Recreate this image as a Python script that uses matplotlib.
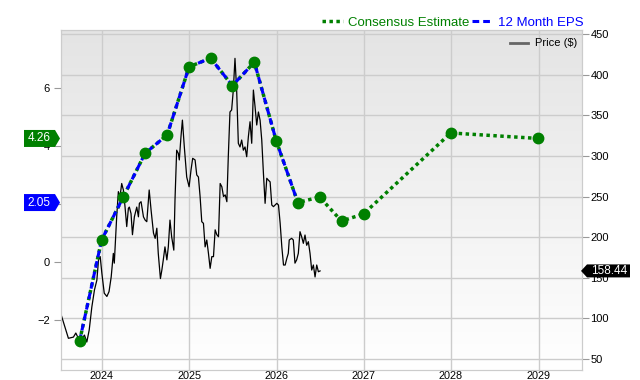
import numpy as np
import pandas as pd
import matplotlib
matplotlib.use('Agg')
import matplotlib.pyplot as plt
from matplotlib.patches import Polygon
from matplotlib.lines import Line2D
from matplotlib.colors import LinearSegmentedColormap
from matplotlib.transforms import IdentityTransform

plt.rcParams['font.family'] = ['Liberation Sans', 'DejaVu Sans']

# quarterly EPS, first 11 reported (12 month EPS), the rest consensus
eps_dates = ['2023-09-30', '2023-12-31', '2024-03-31', '2024-06-30', '2024-09-30',
             '2024-12-31', '2025-03-31', '2025-06-30', '2025-09-30', '2025-12-31',
             '2026-03-31', '2026-06-30', '2026-09-30', '2026-12-31', '2027-12-31',
             '2028-12-31']
eps_vals = [-2.72, 0.76, 2.25, 3.75, 4.38, 6.73, 7.03, 6.08, 6.89, 4.17,
            2.05, 2.24, 1.41, 1.66, 4.45, 4.26]
n_actual = 11

price_dates = ['2023-07-13', '2023-08-14', '2023-09-04', '2023-09-14', '2023-09-22',
               '2023-10-02', '2023-10-20', '2023-10-30', '2023-11-09', '2023-11-20',
               '2023-12-01', '2023-12-11', '2023-12-18', '2023-12-25', '2024-01-01',
               '2024-01-11', '2024-01-22', '2024-01-31', '2024-02-09', '2024-02-18',
               '2024-02-22', '2024-03-03', '2024-03-10', '2024-03-17', '2024-03-24',
               '2024-03-31', '2024-04-07', '2024-04-14', '2024-04-21', '2024-04-25',
               '2024-05-02', '2024-05-08', '2024-05-16', '2024-05-26', '2024-06-02',
               '2024-06-06', '2024-06-13', '2024-06-23', '2024-06-30', '2024-07-07',
               '2024-07-17', '2024-07-25', '2024-08-04', '2024-08-11', '2024-08-18',
               '2024-08-24', '2024-09-02', '2024-09-08', '2024-09-14', '2024-09-21',
               '2024-09-29', '2024-10-05', '2024-10-12', '2024-10-19', '2024-10-28',
               '2024-11-02', '2024-11-09', '2024-11-16', '2024-11-20', '2024-11-27',
               '2024-12-03', '2024-12-11', '2024-12-21', '2024-12-31', '2025-01-08',
               '2025-01-15', '2025-01-25', '2025-02-01', '2025-02-08', '2025-02-15',
               '2025-02-22', '2025-03-01', '2025-03-08', '2025-03-15', '2025-03-22',
               '2025-03-29', '2025-04-05', '2025-04-12', '2025-04-19', '2025-04-26',
               '2025-05-03', '2025-05-10', '2025-05-17', '2025-05-24', '2025-05-31',
               '2025-06-07', '2025-06-13', '2025-06-20', '2025-06-27', '2025-07-04',
               '2025-07-11', '2025-07-18', '2025-07-25', '2025-08-01', '2025-08-08',
               '2025-08-15', '2025-08-22', '2025-08-29', '2025-09-05', '2025-09-12',
               '2025-09-19', '2025-09-26', '2025-10-03', '2025-10-10', '2025-10-17',
               '2025-10-24', '2025-10-31', '2025-11-07', '2025-11-14', '2025-11-21',
               '2025-11-28', '2025-12-05', '2025-12-12', '2025-12-19', '2025-12-26',
               '2026-01-02', '2026-01-09', '2026-01-16', '2026-01-23', '2026-01-30',
               '2026-02-06', '2026-02-13', '2026-02-19', '2026-02-23', '2026-03-05',
               '2026-03-12', '2026-03-19', '2026-03-26', '2026-04-02', '2026-04-09',
               '2026-04-16', '2026-04-23', '2026-04-30', '2026-05-07', '2026-05-14',
               '2026-05-21', '2026-05-28', '2026-06-04', '2026-06-11', '2026-06-18',
               '2026-06-25', '2026-07-02']
price_vals = [106, 75.5, 77, 82, 77, 71, 79.5, 71, 85.7, 114,
              135, 147, 172, 176, 155.5, 131, 127, 133, 151, 180,
              168, 225, 256, 250, 266, 258, 237, 213, 235.5, 237,
              229, 203, 225, 237, 225, 241.6, 243.6, 225, 221, 219,
              258, 233, 205, 198.5, 211, 180, 149, 159.5, 172, 188,
              172, 188, 221, 200.5, 184, 246, 307, 303, 295, 323.6,
              344, 311, 274, 262, 282.6, 297, 295, 276.5, 274, 250,
              219, 217, 188, 196.5, 180, 161.6, 176, 176, 209, 203,
              200.5, 266, 262, 250, 252, 243.6, 299, 354, 356.5, 381,
              420, 381, 315.5, 311, 319.5, 307, 311, 299, 323.6, 342,
              315.5, 381, 360.5, 338, 354, 344, 319.5, 278.5, 241.6, 272.4,
              270, 268, 239.5, 237.5, 239.5, 241.6, 239.5, 217, 188, 165.7,
              165.7, 174, 180, 196.5, 198.5, 196.5, 168, 172, 180, 206.7,
              200.5, 192.4, 202.6, 190, 194.4, 180, 159.5, 165.7, 151, 165.7,
              157.4, 158.44]

price_ticks = [50, 100, 150, 200, 250, 300, 350, 400, 450]
eps_ticks = [-2, 0, 2, 4, 6]
year_ticks = ['2024-01-01', '2025-01-01', '2026-01-01', '2027-01-01', '2028-01-01', '2029-01-01']
year_labels = ['2024', '2025', '2026', '2027', '2028', '2029']

consensus_badge = 4.26
eps_badge = 2.05
last_price = 158.44

GREEN = '#008000'
BLUE = '#0000ff'
GRID = '#cccccc'

eps_d = pd.to_datetime(eps_dates)
price_d = pd.to_datetime(price_dates)

fig = plt.figure(figsize=(6.4, 3.8), dpi=100)
ax = fig.add_axes([61 / 640, 10 / 380, 521 / 640, 340 / 380])

# background gradient
cmap = LinearSegmentedColormap.from_list('bg', ['#e4e4e4', '#ffffff'])
ax.imshow(np.linspace(0, 1, 256).reshape(-1, 1), cmap=cmap, extent=[0, 1, 0, 1],
          transform=ax.transAxes, aspect='auto', zorder=0)

ax.plot(price_d, price_vals, color='black', lw=0.9, zorder=3)
ax.set_xlim(pd.Timestamp('2023-07-14'), pd.Timestamp('2029-07-02'))
ax.set_ylim(36.5, 454.9)
ax.set_yticks(price_ticks)
ax.set_xticks(pd.to_datetime(year_ticks))
ax.set_xticklabels(year_labels)
ax.grid(True, color=GRID, lw=1, zorder=1)
ax.set_axisbelow(True)
for s in ax.spines.values():
    s.set_color(GRID)

ax_eps = ax.twinx()
# twinx puts the host ticks on the left, swap them
ax.yaxis.tick_right()
ax.yaxis.set_label_position('right')
ax.tick_params(axis='y', length=5, color='#999999', pad=1, labelsize=8)
ax.tick_params(axis='x', length=0, pad=0.5, labelsize=7.8)

ax_eps.yaxis.tick_left()
ax_eps.set_ylim(-3.724, 8.0)
ax_eps.set_yticks(eps_ticks)
ax_eps.tick_params(axis='y', length=5, color='#999999', pad=3, labelsize=8)
for s in ax_eps.spines.values():
    s.set_color(GRID)

ax_eps.plot(eps_d, eps_vals, color=GREEN, ls=(0, (1, 1)), lw=2.5, zorder=3)
ax_eps.plot(eps_d[:n_actual], eps_vals[:n_actual], color=BLUE, ls=(0, (2.2, 1.3)), lw=2.2, zorder=4)
ax_eps.plot(eps_d, eps_vals, ls='none', marker='o', ms=7.5, color=GREEN, zorder=5)

# legends
fig.legend(handles=[Line2D([], [], color=GREEN, ls=(0, (1, 1)), lw=2.5),
                    Line2D([], [], color=BLUE, ls=(0, (2.2, 1.3)), lw=2.2)],
           labels=['Consensus Estimate', '12 Month EPS'], loc='lower right',
           bbox_to_anchor=(584 / 640, 1 - 29 / 380), ncol=2, frameon=False, fontsize=9.5,
           handlelength=1.6, columnspacing=0.2, handletextpad=0.4, borderaxespad=0,
           borderpad=0, labelcolor=[GREEN, BLUE])
ax_eps.legend(handles=[Line2D([], [], color='#666666', lw=2)], labels=['Price ($)'],
              loc='upper right', bbox_to_anchor=(0.99, 0.975), frameon=False, fontsize=8,
              handlelength=1.6, handletextpad=0.6, borderaxespad=0, borderpad=0)


def badge(axis, y, label, color, side):
    if side == 'left':
        x0, y0 = axis.get_yaxis_transform().transform((0, y))
        tip = x0 - 1
        verts = [(tip - 36, y0 - 8.5), (tip - 5, y0 - 8.5), (tip, y0), (tip - 5, y0 + 8.5), (tip - 36, y0 + 8.5)]
        tx = tip - 21
    else:
        x0, y0 = axis.get_yaxis_transform().transform((1, y))
        tip = x0 - 1
        verts = [(tip, y0), (tip + 6, y0 - 6.5), (tip + 49, y0 - 6.5), (tip + 49, y0 + 6.5), (tip + 6, y0 + 6.5)]
        tx = tip + 28
    fig.patches.append(Polygon(verts, closed=True, facecolor=color, edgecolor='none',
                               transform=IdentityTransform(), figure=fig, zorder=20))
    fig.text(tx, y0, label, transform=IdentityTransform(), color='white', fontsize=8.5,
             ha='center', va='center', zorder=21)


badge(ax_eps, consensus_badge, '%.2f' % consensus_badge, GREEN, 'left')
badge(ax_eps, eps_badge, '%.2f' % eps_badge, BLUE, 'left')
badge(ax, last_price, '%.2f' % last_price, 'black', 'right')

fig.savefig('out.png', dpi=100)
